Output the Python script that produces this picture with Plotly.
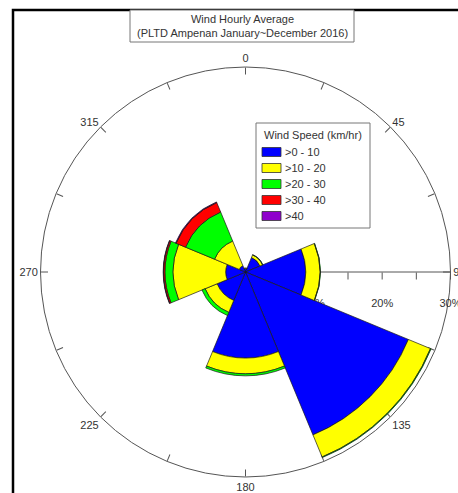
import plotly.graph_objects as go

directions = [0, 45, 90, 135, 180, 225, 270, 315]
speed_classes = [">0 - 10", ">10 - 20", ">20 - 30", ">30 - 40", ">40"]
colors = ["#0000FF", "#FFFF00", "#00FF00", "#FF0000", "#8F00CC"]

freq_0_10 = [0.5, 2.3, 8.8, 25.8, 12.6, 4.5, 2.9, 1.0]
freq_10_20 = [0.1, 0.4, 2.1, 3.5, 2.3, 1.9, 7.7, 3.9]
freq_20_30 = [0.0, 0.05, 0.05, 0.1, 0.3, 0.5, 1.2, 4.6]
freq_30_40 = [0.0, 0.0, 0.0, 0.0, 0.0, 0.0, 0.2, 1.5]
freq_40_up = [0.0, 0.0, 0.0, 0.0, 0.0, 0.0, 0.05, 0.1]
series = [freq_0_10, freq_10_20, freq_20_30, freq_30_40, freq_40_up]

angle_ticks = [i * 22.5 for i in range(16)]
angle_labels = [str(int(a)) if a % 45 == 0 else "" for a in angle_ticks]
radial_ticks = [5, 10, 15, 20, 25, 30]
radial_labels = ["", "10%", "", "20%", "", "30%"]
legend_title = "Wind Speed (km/hr)"

FONT = "Arial, Liberation Sans, sans-serif"
W, H = 458, 493

fig = go.Figure()
for name, vals, col in zip(speed_classes, series, colors):
    fig.add_trace(go.Barpolar(
        r=vals, theta=directions, width=[45] * len(directions), name=name,
        marker=dict(color=col, line=dict(color="#1a1a1a", width=0.7)),
        showlegend=False,
    ))

def px(x):
    return x / W

def py(y):
    return 1 - y / H

cx, cy, R = 245.5, 272, 205

shapes = [
    dict(type="rect", xref="paper", yref="paper",
         x0=px(13), x1=1.02, y0=-0.02, y1=py(10),
         line=dict(color="black", width=2.5), fillcolor="rgba(0,0,0,0)", layer="above"),
    dict(type="rect", xref="paper", yref="paper",
         x0=px(130), x1=px(354), y0=py(42), y1=py(10),
         line=dict(color="#777777", width=1), fillcolor="white", layer="above"),
    dict(type="rect", xref="paper", yref="paper",
         x0=px(256), x1=px(370), y0=py(228), y1=py(123),
         line=dict(color="#777777", width=1), fillcolor="white", layer="above"),
]
annotations = [
    dict(text="Wind Hourly Average<br>(PLTD Ampenan January~December 2016)",
         xref="paper", yref="paper", x=px(242), y=py(26),
         xanchor="center", yanchor="middle", showarrow=False,
         font=dict(size=11, color="#333333", family=FONT)),
    dict(text=legend_title, xref="paper", yref="paper", x=px(262), y=py(135),
         xanchor="left", yanchor="middle", showarrow=False,
         font=dict(size=11, color="#333333", family=FONT)),
]
for i, (name, col) in enumerate(zip(speed_classes, colors)):
    yc = 152 + i * 16
    shapes.append(dict(type="rect", xref="paper", yref="paper",
                       x0=px(262), x1=px(281), y0=py(yc + 4.5), y1=py(yc - 4.5),
                       line=dict(color="#333333", width=0.8), fillcolor=col, layer="above"))
    annotations.append(dict(text=name, xref="paper", yref="paper", x=px(283), y=py(yc),
                            xanchor="left", yanchor="middle", showarrow=False,
                            font=dict(size=11, color="#333333", family=FONT)))

fig.update_layout(
    width=W, height=H,
    margin=dict(l=0, r=0, t=0, b=0),
    paper_bgcolor="white", plot_bgcolor="white",
    font=dict(family=FONT, size=11, color="#333333"),
    showlegend=False,
    polar=dict(
        domain=dict(x=[(cx - R) / W, (cx + R) / W], y=[1 - (cy + R) / H, 1 - (cy - R) / H]),
        bgcolor="white",
        barmode="stack",
        angularaxis=dict(
            rotation=90, direction="clockwise",
            tickmode="array", tickvals=angle_ticks, ticktext=angle_labels,
            ticks="inside", ticklen=7, tickcolor="#555555",
            showgrid=False, showline=True, linecolor="#555555", linewidth=1,
            tickfont=dict(size=11, color="#333333", family=FONT),
            layer="below traces",
        ),
        radialaxis=dict(
            range=[0, 30], angle=0, side="clockwise",
            tickmode="array", tickvals=radial_ticks,
            ticktext=[("<br>" + t) if t else "" for t in radial_labels],
            ticks="outside", ticklen=7, tickcolor="#555555",
            showgrid=False, showline=True, linecolor="#555555", linewidth=1,
            tickfont=dict(size=11, color="#333333", family=FONT),
            tickangle=0,
            layer="below traces",
        ),
    ),
    shapes=shapes,
    annotations=annotations,
)

fig.write_html("out.html", config={"displayModeBar": False},
               post_script="document.body.style.margin='0';document.body.style.overflow='hidden';")
